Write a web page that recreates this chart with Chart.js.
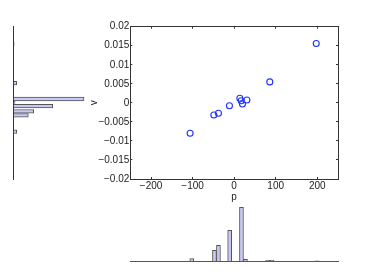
<!DOCTYPE html>
<html>
<head>
<meta charset="utf-8">
<script src="https://cdn.jsdelivr.net/npm/chart.js@4/dist/chart.umd.min.js"></script>
<style>
  html, body { margin: 0; padding: 0; background: #fff; }
  #wrap { position: relative; width: 374px; height: 276px; }
  canvas { position: absolute; left: 0; top: 0; }
</style>
</head>
<body>
<div id="wrap">
  <canvas id="cLeft" width="374" height="276"></canvas>
  <canvas id="cBottom" width="374" height="276"></canvas>
  <canvas id="cMain" width="374" height="276"></canvas>
</div>
<script>
// ---- data ----
const pValues = [197.6, 85.8, 30.6, 13.7, 16.9, 20.0, -11.3, -37.8, -48.9, -106.0];
const vValues = [0.0156, 0.0055, 0.00075, 0.0012, 0.00056, -0.0003, -0.00075, -0.00275, -0.0032, -0.0080];

const pTicks = [-200, -100, 0, 100, 200];
const vTicks = [-0.02, -0.015, -0.01, -0.005, 0, 0.005, 0.01, 0.015, 0.02];

// bottom histogram (bins of p) : bin centres and bar heights
const pBinCenters = [-102, -47.4, -37.8, -10.8, 17.6, 27.2, 81, 91, 200];
const pBinHeights = [2.6, 11, 16, 31, 54, 2, 1, 1, 0.5];

// left histogram (bins of v) : bin centres and bar lengths
const vBinCenters = [0.0, 0.0155, 0.0052, 0.00101, -0.00083, -0.00222, -0.00327, -0.00758];
const vBinHeights = [1.3, 0.5, 3, 70.3, 39, 20, 14.6, 3];

const xLabel = 'p';
const yLabel = 'v';

// ---- styles ----
Chart.defaults.font.family = "'Liberation Sans', Arial, sans-serif";
Chart.defaults.font.size = 10;
Chart.defaults.color = '#222';
Chart.defaults.animation = false;

const barFill = '#c8c8f5';
const barEdge = '#555';
const axisCol = '#333';
const fmt = v => parseFloat(Number(v).toFixed(4)).toString().replace('-', '\u2212');

function hiddenScale(extra) {
  return Object.assign({
    display: true,
    ticks: { display: false },
    grid: { display: false, drawTicks: false },
    border: { display: true, color: axisCol, width: 1 }
  }, extra);
}

// ---- main scatter ----
new Chart(document.getElementById('cMain'), {
  type: 'scatter',
  data: {
    datasets: [{
      data: pValues.map((p, i) => ({ x: p, y: vValues[i] })),
      pointStyle: 'circle',
      pointRadius: 3,
      pointBorderWidth: 1.1,
      pointBorderColor: '#1f33ff',
      pointBackgroundColor: 'rgba(0,0,0,0)'
    }]
  },
  options: {
    responsive: false,
    plugins: { legend: { display: false }, tooltip: { enabled: false } },
    layout: { padding: { left: 88, right: 36, top: 26.7, bottom: 73 } },
    scales: {
      x: {
        type: 'linear', position: 'bottom', min: -250, max: 250,
        afterBuildTicks: s => { s.ticks = pTicks.map(v => ({ value: v })); },
        afterFit: s => { s.height = 24; },
        ticks: { padding: 3.3, callback: fmt, maxRotation: 0 },
        grid: { display: true, drawOnChartArea: false, drawTicks: true, tickLength: -2, color: axisCol },
        border: { display: true, color: axisCol },
        title: { display: true, text: xLabel, padding: 0 }
      },
      y: {
        type: 'linear', position: 'left', min: -0.02, max: 0.02,
        afterBuildTicks: s => { s.ticks = vTicks.map(v => ({ value: v })); },
        afterFit: s => { s.width = 42.3; },
        ticks: { padding: 3, callback: fmt },
        grid: { display: true, drawOnChartArea: false, drawTicks: true, tickLength: -2, color: axisCol },
        border: { display: true, color: axisCol },
        title: { display: true, text: yLabel, padding: 0 }
      },
      x2: {
        type: 'linear', position: 'top', min: -250, max: 250,
        afterBuildTicks: s => { s.ticks = pTicks.map(v => ({ value: v })); },
        afterFit: s => { s.height = 0; },
        ticks: { display: false },
        grid: { display: true, drawOnChartArea: false, drawTicks: true, tickLength: -2, color: axisCol },
        border: { display: true, color: axisCol }
      },
      y2: {
        type: 'linear', position: 'right', min: -0.02, max: 0.02,
        afterBuildTicks: s => { s.ticks = vTicks.map(v => ({ value: v })); },
        afterFit: s => { s.width = 0; },
        ticks: { display: false },
        grid: { display: true, drawOnChartArea: false, drawTicks: true, tickLength: -2, color: axisCol },
        border: { display: true, color: axisCol }
      }
    }
  }
});

// ---- bottom histogram of p ----
new Chart(document.getElementById('cBottom'), {
  type: 'bar',
  data: {
    datasets: [{
      data: pBinCenters.map((c, i) => ({ x: c, y: pBinHeights[i] })),
      backgroundColor: barFill,
      borderColor: barEdge,
      borderWidth: 1,
      barThickness: 4
    }]
  },
  options: {
    responsive: false,
    plugins: { legend: { display: false }, tooltip: { enabled: false } },
    layout: { padding: { left: 130.3, right: 36, top: 201.3, bottom: 14.7 } },
    scales: {
      x: hiddenScale({ type: 'linear', position: 'bottom', min: -250, max: 250, offset: false,
        border: { display: true, color: '#555', width: 1 },
        afterFit: s => { s.height = 0; } }),
      y: { type: 'linear', display: false, min: 0, max: 60 }
    }
  }
});

// ---- left histogram of v ----
new Chart(document.getElementById('cLeft'), {
  type: 'bar',
  data: {
    datasets: [{
      data: vBinCenters.map((c, i) => ({ y: c, x: vBinHeights[i] })),
      backgroundColor: barFill,
      borderColor: barEdge,
      borderWidth: 1,
      barThickness: 3.6
    }]
  },
  options: {
    indexAxis: 'y',
    responsive: false,
    plugins: { legend: { display: false }, tooltip: { enabled: false } },
    layout: { padding: { left: 13.7, right: 280.3, top: 26.7, bottom: 97 } },
    scales: {
      y: hiddenScale({ type: 'linear', position: 'left', min: -0.02, max: 0.02, offset: false,
        afterFit: s => { s.width = 0; } }),
      x: { type: 'linear', display: false, min: 0, max: 80 }
    }
  }
});
</script>
</body>
</html>
